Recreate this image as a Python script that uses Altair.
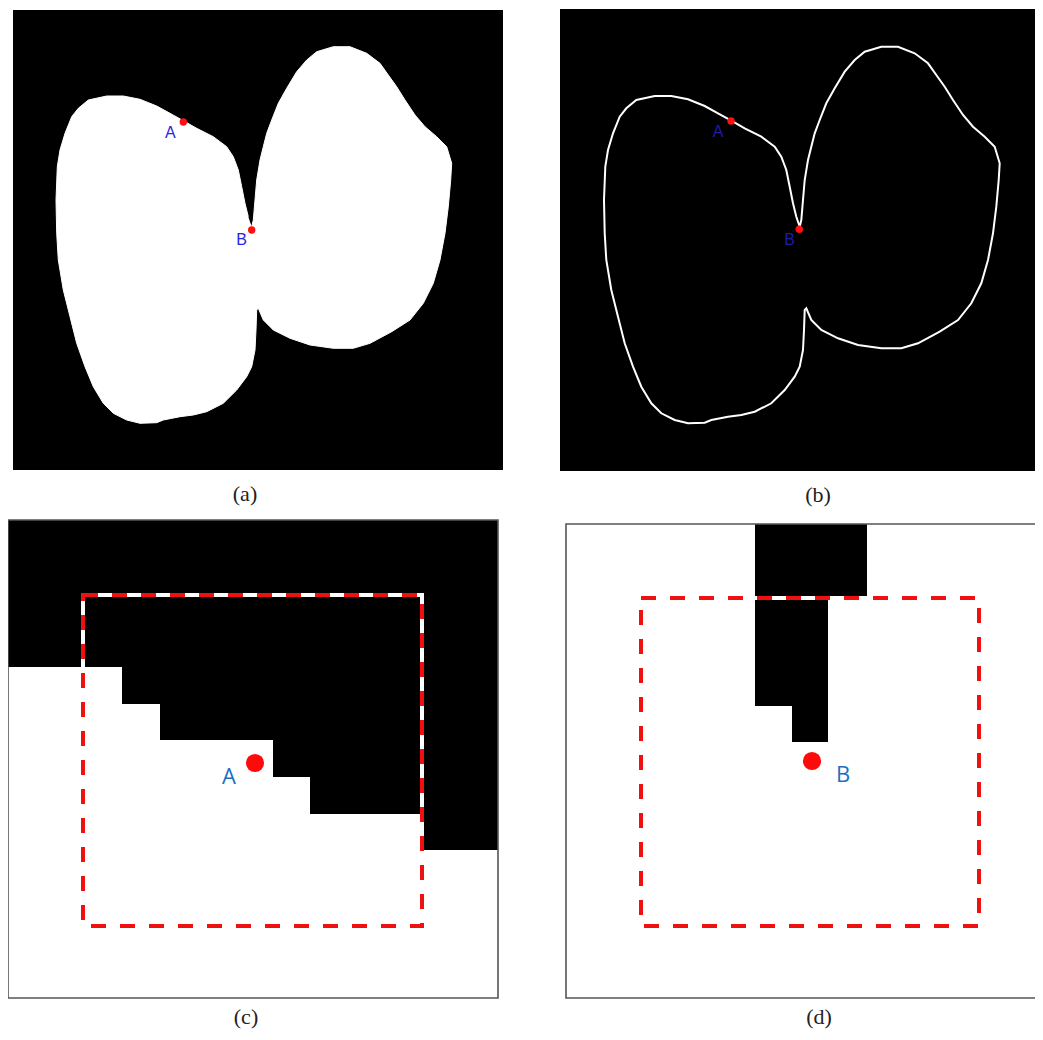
import altair as alt
import pandas as pd

W, H = 1027, 1022

# ---- panel frames (page pixel coordinates) ----
panel_names = ["a", "b", "c", "d"]
panel_x0 = [13, 560, 8, 566]
panel_x1 = [503, 1050, 498, 1050]
panel_y0 = [10, 9, 520, 524]
panel_y1 = [470, 471, 998, 998]
panel_fill = ["#000000", "#000000", "#ffffff", "#ffffff"]

# ---- blob boundary in panel (a) ----
blob_x = [251.7, 253.3, 255, 256.7, 260, 263.3, 266.7, 271.7, 278.3, 286.7, 296.7, 306.7,
          316.7, 333.3, 350, 366.7, 380, 388.3, 396.7, 405, 415, 425, 436.7, 446.7, 451.7,
          450.7, 448.3, 445, 440, 433.3, 423.3, 410, 391.7, 370, 353.3, 333.3, 310, 290,
          273.3, 263.3, 258.3, 256.7, 256, 255, 251.7, 246.7, 236.7, 223.3, 206.7, 193.3,
          180, 163.3, 156.7, 140, 126.7, 113.3, 103.3, 93.3, 85, 76.7, 70, 63.3, 58.3, 56.7,
          56, 57.3, 60, 65, 71.7, 78.3, 88.3, 106.7, 123.3, 140, 156.7, 170, 183.3, 196.7,
          213.3, 226.7, 233.3, 238.3, 241.7, 245, 248.3]
blob_y = [226.7, 220, 200, 180, 160, 146.7, 133.3, 120, 103.3, 88.3, 71.7, 60,
          51.7, 46.7, 46.7, 53.3, 63.3, 75, 86.7, 100, 115, 126.7, 136.7, 146.7, 163.3,
          180, 206.7, 233.3, 260, 283.3, 303.3, 320, 331.7, 343.3, 348.3, 348.3, 345, 338.3,
          330, 320, 308.3, 310, 330, 350, 366.7, 376.7, 390, 403.3, 411.7, 415,
          416.7, 420, 422.7, 423.3, 420, 413.3, 403.3, 386.7, 366.7, 343.3, 316.7, 290, 260, 233.3,
          200, 166.7, 150, 133.3, 116.7, 108.3, 100, 96, 96, 99.3, 106, 113.3, 120.7, 128.3,
          136.7, 146.7, 156.7, 170, 186.7, 203.3, 216.7]
outline_dx = 548  # panel (b) shows the same boundary, shifted right

# ---- (c) close-up around A: black rows (bottom edge, left edge) ----
c_row_bottom = [667, 704, 740, 777, 814, 850]
c_row_left = [8, 122, 160, 273, 310, 422]
c_top = 520
c_row_right = 498

# ---- (d) close-up around B: black blocks ----
d_blk_x0 = [755, 755, 792]
d_blk_x1 = [867, 828, 828]
d_blk_y0 = [524, 596, 700]
d_blk_y1 = [596, 706, 742]

# ---- dashed windows ----
win_x0 = [83, 641]
win_x1 = [422, 979]
win_y0 = [595, 598]
win_y1 = [926, 926]

# ---- points ----
small_dot_x = [183.3, 251.7, 731, 799.3]
small_dot_y = [122, 230, 121, 229.3]
big_dot_x = [255, 812]
big_dot_y = [763, 761]

# ---- labels ----
lab_a_text = ["A", "B"]
lab_a_x = [170.3, 241.7]
lab_a_y = [133, 240]
lab_b_text = ["A", "B"]
lab_b_x = [718.2, 789.5]
lab_b_y = [132, 240]
lab_cd_text = ["A", "B"]
lab_cd_x = [229, 843]
lab_cd_y = [777, 775]
cap_text = ["(a)", "(b)", "(c)", "(d)"]
cap_x = [245, 818, 246, 819]
cap_y = [494, 495, 1017, 1017]

xs = alt.Scale(domain=[8, 8 + W], nice=False, zero=False)
ys = alt.Scale(domain=[8, 8 + H], nice=False, zero=False, reverse=True)


def X(f):
    return alt.X(f, type="quantitative", scale=xs, axis=None)


def Y(f):
    return alt.Y(f, type="quantitative", scale=ys, axis=None)


panels = pd.DataFrame({"name": panel_names, "x0": panel_x0, "x1": panel_x1,
                       "y0": panel_y0, "y1": panel_y1, "fill": panel_fill})
bg = alt.Chart(panels).mark_rect().encode(
    x=X("x0"), x2="x1", y=Y("y0"), y2="y1",
    color=alt.Color("fill:N", scale=None))

borders = alt.Chart(panels[panels["name"].isin(["c", "d"])]).mark_rect(
    fillOpacity=0, stroke="#555555", strokeWidth=1.6).encode(
    x=X("x0"), x2="x1", y=Y("y0"), y2="y1")

blob_df = pd.DataFrame({"x": blob_x, "y": blob_y, "i": range(len(blob_x))})
blob = alt.Chart(blob_df).mark_line(fill="white", stroke="white", strokeWidth=1).encode(
    x=X("x"), y=Y("y"), order="i:Q")

ox = [v + outline_dx for v in blob_x] + [blob_x[0] + outline_dx]
oy = blob_y + [blob_y[0]]
out_df = pd.DataFrame({"x": ox, "y": oy, "i": range(len(ox))})
outline = alt.Chart(out_df).mark_line(stroke="white", strokeWidth=2).encode(
    x=X("x"), y=Y("y"), order="i:Q")

c_df = pd.DataFrame({"x0": c_row_left, "x1": [c_row_right] * len(c_row_left),
                     "y0": [c_top] * len(c_row_left), "y1": c_row_bottom})
c_black = alt.Chart(c_df).mark_rect(color="black").encode(
    x=X("x0"), x2="x1", y=Y("y0"), y2="y1")

d_df = pd.DataFrame({"x0": d_blk_x0, "x1": d_blk_x1, "y0": d_blk_y0, "y1": d_blk_y1})
d_black = alt.Chart(d_df).mark_rect(color="black").encode(
    x=X("x0"), x2="x1", y=Y("y0"), y2="y1")

win_df = pd.DataFrame({"x0": win_x0, "x1": win_x1, "y0": win_y0, "y1": win_y1})
win_under = alt.Chart(win_df).mark_rect(fillOpacity=0, stroke="white", strokeWidth=4).encode(
    x=X("x0"), x2="x1", y=Y("y0"), y2="y1")
win_dash = alt.Chart(win_df).mark_rect(fillOpacity=0, stroke="#f01010", strokeWidth=4,
                                       strokeDash=[15, 14]).encode(
    x=X("x0"), x2="x1", y=Y("y0"), y2="y1")

sd = alt.Chart(pd.DataFrame({"x": small_dot_x, "y": small_dot_y})).mark_circle(
    color="#ff1010", opacity=1, size=55).encode(x=X("x"), y=Y("y"))
bd = alt.Chart(pd.DataFrame({"x": big_dot_x, "y": big_dot_y})).mark_circle(
    color="#ff0a0a", opacity=1, size=330).encode(x=X("x"), y=Y("y"))

la = alt.Chart(pd.DataFrame({"x": lab_a_x, "y": lab_a_y, "t": lab_a_text})).mark_text(
    font="Liberation Sans", fontSize=16, color="#2626e6", align="center", baseline="middle").encode(
    x=X("x"), y=Y("y"), text="t:N")
lb = alt.Chart(pd.DataFrame({"x": lab_b_x, "y": lab_b_y, "t": lab_b_text})).mark_text(
    font="Liberation Sans", fontSize=16, color="#1c1ca8", align="center", baseline="middle").encode(
    x=X("x"), y=Y("y"), text="t:N")
lcd = alt.Chart(pd.DataFrame({"x": lab_cd_x, "y": lab_cd_y, "t": lab_cd_text})).mark_text(
    font="Open Sans", fontSize=22, color="#1a6fc4", align="center", baseline="middle").encode(
    x=X("x"), y=Y("y"), text="t:N")
caps = alt.Chart(pd.DataFrame({"x": cap_x, "y": cap_y, "t": cap_text})).mark_text(
    font="Liberation Serif", fontSize=22, color="#222222", align="center", baseline="middle").encode(
    x=X("x"), y=Y("y"), text="t:N")

chart = alt.layer(bg, blob, outline, c_black, d_black, borders, win_under, win_dash,
                  sd, bd, la, lb, lcd, caps).properties(
    width=W, height=H, padding=0, autosize="none", background="white"
).configure_view(stroke=None)

chart.save("out.html", embed_options={"renderer": "svg", "actions": False})
